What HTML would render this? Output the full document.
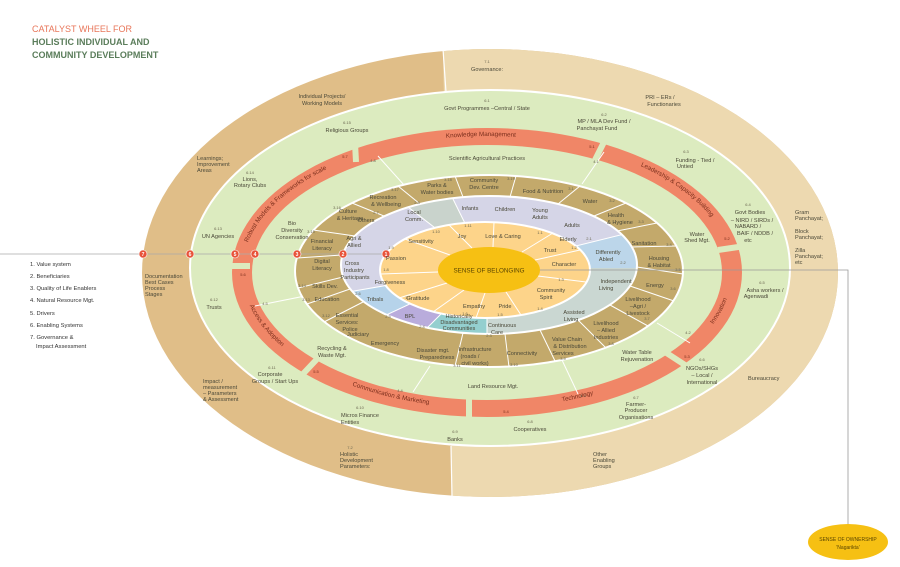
<!DOCTYPE html>
<html><head><meta charset="utf-8"><style>
html,body{margin:0;padding:0;background:#fff;width:900px;height:567px;overflow:hidden;}
svg{display:block;font-family:"Liberation Sans",sans-serif;}
.l{font-size:5.6px;fill:#4a4838;text-anchor:middle;}
.n{font-size:4px;fill:#6a6650;text-anchor:middle;}
.r{font-size:6.3px;fill:#7a2e1c;}
.lg{font-size:5.8px;fill:#333;}
</style></head><body>
<svg width="900" height="567" viewBox="0 0 900 567" xmlns="http://www.w3.org/2000/svg">
<defs>
<clipPath id="co"><ellipse cx="490" cy="273" rx="348" ry="224"/></clipPath>
<clipPath id="cl"><ellipse cx="489" cy="265" rx="148" ry="69"/></clipPath>
<path id="pTop" d="M242 272 A245 136 0 1 1 732 272"/>
<path id="pBot" d="M242 272 A245 136 0 0 0 732 272"/>
<path id="pRt" d="M675 359 A245 136 0 0 0 728 248"/>
</defs>

<text x="32" y="32" style="font-size:9px;fill:#e8765a">CATALYST WHEEL FOR</text>
<text x="32" y="45" style="font-size:9px;fill:#5b7d5b;font-weight:bold">HOLISTIC INDIVIDUAL AND</text>
<text x="32" y="58" style="font-size:9px;fill:#5b7d5b;font-weight:bold">COMMUNITY DEVELOPMENT</text>

<ellipse cx="490" cy="273" rx="348" ry="224" fill="#e0be88"/>
<polygon points="443,49 443,0 900,0 900,567 452,567 452,497" fill="#edd9b0" clip-path="url(#co)"/>
<line x1="443" y1="49" x2="446" y2="92" stroke="#fff" stroke-width="1.2"/>
<line x1="452" y1="497" x2="451" y2="446" stroke="#fff" stroke-width="1.2"/>

<ellipse cx="490" cy="268" rx="300" ry="178" fill="#dcebbf" stroke="#fff" stroke-width="2"/>

<ellipse cx="487" cy="272.5" rx="255" ry="144.5" fill="#f08667"/>
<ellipse cx="487" cy="272.5" rx="235" ry="127.5" fill="#dcebbf"/>
<g stroke="#dcebbf" stroke-width="6">
<line x1="356" y1="162" x2="355" y2="143"/>
<line x1="595" y1="160" x2="604" y2="142"/>
<line x1="718" y1="250" x2="745" y2="246"/>
<line x1="665" y1="352" x2="685" y2="365"/>
<line x1="469" y1="396" x2="469" y2="420"/>
<line x1="318" y1="358" x2="302" y2="375"/>
<line x1="250" y1="266" x2="230" y2="266"/>
</g>
<text class="r"><textPath href="#pTop" startOffset="14%" text-anchor="middle" dy="2">Robust Models &amp; Frameworks for scale</textPath></text>
<text class="r"><textPath href="#pTop" startOffset="49%" text-anchor="middle" dy="2">Knowledge Management</textPath></text>
<text class="r"><textPath href="#pTop" startOffset="83%" text-anchor="middle" dy="2">Leadership &amp; Capacity Building</textPath></text>
<text class="r"><textPath href="#pRt" startOffset="50%" text-anchor="middle" dy="2">Innovation</textPath></text>
<text class="r"><textPath href="#pBot" startOffset="10%" text-anchor="middle" dy="2">Access &amp; Adoption</textPath></text>
<text class="r"><textPath href="#pBot" startOffset="34%" text-anchor="middle" dy="2">Communication &amp; Marketing</textPath></text>
<text class="r"><textPath href="#pBot" startOffset="65%" text-anchor="middle" dy="2">Technology</textPath></text>
<g class="n" style="fill:#7a2e1c">
<text x="345" y="158">5.7</text><text x="592" y="148">5.1</text><text x="727" y="240">5.2</text>
<text x="687" y="358">5.3</text><text x="506" y="413">5.4</text><text x="316" y="373">5.5</text><text x="243" y="276">5.6</text>
</g>

<g stroke="#fff" stroke-width="1">
<line x1="378" y1="156" x2="404" y2="185"/>
<line x1="604" y1="152" x2="582" y2="184"/>
<line x1="657" y1="323" x2="690" y2="343"/>
<line x1="562" y1="360" x2="578" y2="394"/>
<line x1="430" y1="366" x2="413" y2="392"/>
<line x1="255" y1="306" x2="305" y2="296"/>
</g>

<ellipse cx="489" cy="271" rx="194" ry="96" fill="#c3a96b" stroke="#fff" stroke-width="2"/>
<g stroke="#fff" stroke-width="1">
<line x1="637" y1="267" x2="683" y2="274"/><line x1="632" y1="247" x2="676" y2="246"/>
<line x1="617" y1="231" x2="657" y2="223"/><line x1="594" y1="216" x2="626" y2="203"/>
<line x1="558" y1="204" x2="580" y2="186"/><line x1="510" y1="197" x2="516" y2="176"/>
<line x1="463" y1="197" x2="455" y2="176"/><line x1="420" y1="204" x2="398" y2="186"/>
<line x1="384" y1="216" x2="352" y2="203"/><line x1="355" y1="236" x2="313" y2="230"/>
<line x1="342" y1="255" x2="297" y2="258"/><line x1="343" y1="277" x2="298" y2="288"/>
<line x1="350" y1="289" x2="307" y2="304"/><line x1="363" y1="302" x2="324" y2="322"/>
<line x1="463" y1="333" x2="455" y2="366"/><line x1="505" y1="334" x2="509" y2="367"/>
<line x1="540" y1="330" x2="555" y2="361"/><line x1="578" y1="320" x2="606" y2="348"/>
<line x1="610" y1="305" x2="648" y2="326"/><line x1="630" y1="286" x2="674" y2="301"/>
</g>

<ellipse cx="489" cy="265" rx="148" ry="69" fill="#d5d5e7"/>
<g clip-path="url(#cl)">
<polygon points="487,268 250,85 382,55" fill="#c9d3cc"/>
<polygon points="487,268 826,184 900,268" fill="#bcd6ea"/>
<polygon points="487,268 900,268 900,600 487,600" fill="#cad7d2"/>
<polygon points="487,268 487,460 316,439" fill="#94cfcf"/>
<polygon points="487,268 316,439 217,394" fill="#b9acdc"/>
<polygon points="487,268 217,394 106,334" fill="#b6d3ea"/>
<g stroke="#fff" stroke-width="1">
<line x1="487" y1="268" x2="250" y2="85"/><line x1="487" y1="268" x2="382" y2="55"/>
<line x1="487" y1="268" x2="826" y2="184"/><line x1="487" y1="268" x2="487" y2="460"/>
<line x1="487" y1="268" x2="316" y2="439"/><line x1="487" y1="268" x2="217" y2="394"/>
<line x1="487" y1="268" x2="106" y2="334"/>
</g>
</g>
<ellipse cx="489" cy="265" rx="148" ry="69" fill="none" stroke="#fff" stroke-width="2"/>

<ellipse cx="485" cy="270" rx="105" ry="48" fill="#fdd48a" stroke="#fff" stroke-width="2"/>
<g stroke="#fff" stroke-width="1">
<line x1="535" y1="260" x2="580" y2="250"/><line x1="522" y1="252" x2="553" y2="233"/>
<line x1="493" y1="247" x2="494" y2="222"/><line x1="472" y1="248" x2="449" y2="225"/>
<line x1="450" y1="255" x2="405" y2="239"/><line x1="438" y1="272" x2="380" y2="274"/>
<line x1="447" y1="283" x2="399" y2="298"/><line x1="464" y1="290" x2="433" y2="312"/>
<line x1="485" y1="293" x2="476" y2="318"/><line x1="506" y1="292" x2="521" y2="315"/>
<line x1="538" y1="276" x2="586" y2="282"/>
</g>

<line x1="0" y1="254" x2="386" y2="254" stroke="#aaa" stroke-width="0.8"/>
<polyline points="540,270 848,270 848,524" fill="none" stroke="#999" stroke-width="0.8"/>

<ellipse cx="489" cy="270" rx="51" ry="23" fill="#f6c013"/>
<text x="489" y="272.5" style="font-size:6.3px;fill:#5a4500;text-anchor:middle">SENSE OF BELONGING</text>

<g fill="#e8533a" stroke="#fff" stroke-width="0.6">
<circle cx="143" cy="254" r="4"/><circle cx="190" cy="254" r="4"/><circle cx="235" cy="254" r="4"/>
<circle cx="255" cy="254" r="4"/><circle cx="297" cy="254" r="4"/><circle cx="343" cy="254" r="4"/><circle cx="386" cy="254" r="4"/>
</g>
<g style="font-size:5px;fill:#fff;text-anchor:middle;font-weight:bold">
<text x="143" y="256">7</text><text x="190" y="256">6</text><text x="235" y="256">5</text><text x="255" y="256">4</text>
<text x="297" y="256">3</text><text x="343" y="256">2</text><text x="386" y="256">1</text>
</g>

<ellipse cx="848" cy="542" rx="40" ry="18" fill="#f6c013"/>
<text x="848" y="541" style="font-size:5px;fill:#5a4500;text-anchor:middle">SENSE OF OWNERSHIP</text>
<text x="848" y="549" style="font-size:5px;fill:#5a4500;text-anchor:middle">'Nagarikta'</text>

<g class="lg">
<text x="30" y="266">1. Value system</text>
<text x="30" y="278">2.  Beneficiaries</text>
<text x="30" y="290">3. Quality of Life Enablers</text>
<text x="30" y="302">4. Natural Resource Mgt.</text>
<text x="30" y="315">5. Drivers</text>
<text x="30" y="327">6. Enabling Systems</text>
<text x="30" y="339">7. Governance &amp;</text>
<text x="36" y="348">Impact Assessment</text>
</g>

<g class="l">
<text x="487" y="63" class="n">7.1</text><text x="487" y="71">Governance:</text>
<text x="322" y="98">Individual Projects/</text><text x="322" y="105">Working Models</text>
<text x="660" y="99">PRI – ERs /</text><text x="664" y="106">Functionaries</text>
</g>
<g class="l" style="text-anchor:start">
<text x="197" y="160">Learnings;</text>
<text x="197" y="166">Improvement</text><text x="197" y="172">Areas</text>
<text x="795" y="214">Gram</text><text x="795" y="220">Panchayat;</text>
<text x="795" y="233">Block</text><text x="795" y="239">Panchayat;</text>
<text x="795" y="252">Zilla</text><text x="795" y="258">Panchayat;</text><text x="795" y="264">etc</text>
<text x="145" y="278">Documentation</text><text x="145" y="284">Best Cases</text><text x="145" y="290">Process</text><text x="145" y="296">Stages</text>
<text x="203" y="383">Impact /</text><text x="203" y="389">measurement</text><text x="203" y="395">– Parameters</text><text x="203" y="401">&amp; Assessment</text>
<text x="748" y="380">Bureaucracy</text>
<text x="340" y="456">Holistic</text><text x="340" y="462">Development</text><text x="340" y="468">Parameters:</text>
<text x="593" y="456">Other</text><text x="593" y="462">Enabling</text><text x="593" y="468">Groups</text>
</g>
<text class="n" x="350" y="449">7.2</text>

<g class="l">
<text class="n" x="487" y="102">6.1</text><text x="487" y="110">Govt Programmes –Central / State</text>
<text class="n" x="604" y="116">6.2</text><text x="604" y="123">MP / MLA Dev Fund /</text><text x="597" y="130">Panchayat Fund</text>
<text class="n" x="686" y="153">6.3</text><text x="695" y="162">Funding - Tied /</text><text x="685" y="168">Untied</text>
<text class="n" x="748" y="206">6.4</text><text x="750" y="214">Govt Bodies</text><text x="752" y="222">– NIRD / SIRDs /</text>
<text x="748" y="228">NABARD /</text><text x="755" y="235">BAIF / NDDB /</text><text x="748" y="242">etc</text>
<text class="n" x="762" y="284">6.5</text><text x="765" y="292">Asha workers /</text><text x="756" y="298">Agenwadi</text>
<text class="n" x="702" y="361">6.6</text><text x="702" y="370">NGOs/SHGs</text><text x="702" y="377">– Local /</text><text x="702" y="384">International</text>
<text class="n" x="636" y="399">6.7</text><text x="636" y="406">Farmer-</text><text x="636" y="412">Producer</text><text x="636" y="419">Organisations</text>
<text class="n" x="530" y="423">6.8</text><text x="530" y="431">Cooperatives</text>
<text class="n" x="455" y="433">6.9</text><text x="455" y="441">Banks</text>
<text class="n" x="360" y="409">6.10</text><text x="360" y="417">Micros Finance</text><text x="350" y="424">Entities</text>
<text class="n" x="272" y="369">6.11</text><text x="270" y="376">Corporate</text><text x="275" y="383">Groups / Start Ups</text>
<text class="n" x="214" y="301">6.12</text><text x="214" y="309">Trusts</text>
<text class="n" x="218" y="230">6.13</text><text x="218" y="238">UN Agencies</text>
<text class="n" x="250" y="174">6.14</text><text x="250" y="181">Lions,</text><text x="250" y="187">Rotary Clubs</text>
<text class="n" x="347" y="124">6.15</text><text x="347" y="132">Religious Groups</text>
</g>

<g class="l">
<text x="487" y="160">Scientific Agricultural Practices</text>
<text x="292" y="225">Bio</text><text x="292" y="232">Diversity</text><text x="292" y="239">Conservation</text>
<text x="697" y="236">Water</text><text x="697" y="242">Shed Mgt.</text>
<text x="637" y="354">Water Table</text><text x="637" y="361">Rejuvenation</text>
<text x="493" y="388">Land Resource Mgt.</text>
<text x="332" y="350">Recycling &amp;</text><text x="332" y="357">Waste Mgt.</text>
<text class="n" x="373" y="162">4.8</text><text class="n" x="596" y="163">4.1</text><text class="n" x="688" y="334">4.2</text>
<text class="n" x="583" y="397">4.3</text><text class="n" x="400" y="392">4.4</text><text class="n" x="265" y="305">4.5</text>
</g>

<g class="l">
<text x="437" y="187">Parks &amp;</text><text x="437" y="194">Water bodies</text><text class="n" x="448" y="181">3.18</text>
<text x="484" y="182">Community</text><text x="484" y="189">Dev. Centre</text><text class="n" x="511" y="180">3.19</text>
<text x="543" y="193">Food &amp; Nutrition</text><text class="n" x="571" y="190">3.1</text>
<text x="590" y="203">Water</text><text class="n" x="612" y="202">3.2</text>
<text x="616" y="217">Health</text><text x="620" y="224">&amp; Hygiene</text><text class="n" x="641" y="223">3.3</text>
<text x="644" y="245">Sanitation</text><text class="n" x="669" y="246">3.4</text>
<text x="659" y="260">Housing</text><text x="659" y="267">&amp; Habitat</text><text class="n" x="678" y="271">3.5</text>
<text x="655" y="287">Energy</text><text class="n" x="673" y="290">3.6</text>
<text x="638" y="301">Livelihood</text><text x="638" y="308">–Agri /</text><text x="638" y="315">Livestock</text><text class="n" x="647" y="320">3.7</text>
<text x="606" y="325">Livelihood</text><text x="606" y="332">– Allied</text><text x="606" y="339">Industries</text><text class="n" x="611" y="345">3.8</text>
<text x="567" y="341">Value Chain</text><text x="570" y="348">&amp; Distribution</text><text x="563" y="355">Services</text><text class="n" x="563" y="360">3.9</text>
<text x="522" y="355">Connectivity</text><text class="n" x="514" y="366">3.10</text>
<text x="475" y="351">Infrastructure</text><text x="470" y="358">(roads /</text><text x="475" y="365">civil works)</text><text class="n" x="457" y="367">3.11</text>
<text x="433" y="352">Disaster mgt.</text><text x="437" y="359">Preparedness</text>
<text x="385" y="345">Emergency</text><text x="358" y="336">Judiciary</text>
<text x="347" y="317">Essential</text><text x="347" y="324">Services:</text><text x="350" y="331">Police</text><text class="n" x="326" y="317">3.12</text>
<text x="327" y="301">Education</text><text class="n" x="306" y="301">3.13</text>
<text x="325" y="288">Skills Dev.</text><text class="n" x="302" y="287">3.14</text>
<text x="322" y="263">Digital</text><text x="322" y="270">Literacy</text>
<text x="322" y="243">Financial</text><text x="322" y="250">Literacy</text><text class="n" x="311" y="233">3.15</text>
<text x="348" y="213">Culture</text><text x="350" y="220">&amp; Heritage</text><text class="n" x="337" y="209">3.16</text>
<text x="383" y="199">Recreation</text><text x="386" y="206">&amp; Wellbeing</text><text class="n" x="395" y="191">3.17</text>
</g>

<g class="l">
<text x="366" y="222">Others</text><text class="n" x="376" y="214">2.7</text>
<text x="354" y="240">Agri &amp;</text><text x="354" y="247">Allied</text>
<text x="352" y="265">Cross</text><text x="354" y="272">Industry</text><text x="355" y="279">Participants</text>
<text x="414" y="214">Local</text><text x="414" y="221">Comm.</text><text class="n" x="417" y="204">2.8</text>
<text x="470" y="210">Infants</text><text x="505" y="211">Children</text>
<text x="540" y="212">Young</text><text x="540" y="219">Adults</text>
<text x="572" y="227">Adults</text><text x="568" y="241">Elderly</text><text class="n" x="589" y="240">2.1</text>
<text x="608" y="254">Differently</text><text x="606" y="261">Abled</text><text class="n" x="623" y="264">2.2</text>
<text x="616" y="283">Independent</text><text x="606" y="290">Living</text>
<text x="574" y="314">Assisted</text><text x="571" y="321">Living</text>
<text x="502" y="327">Continuous</text><text x="497" y="334">Care</text><text class="n" x="489" y="337">2.3</text>
<text x="459" y="318">Historically</text><text x="459" y="324">Disadvantaged</text><text x="459" y="330">Communities</text><text class="n" x="422" y="328">2.4</text>
<text x="410" y="318">BPL</text><text class="n" x="388" y="318">2.5</text>
<text x="375" y="301">Tribals</text><text class="n" x="358" y="295">2.6</text>
</g>

<g class="l">
<text x="396" y="260">Passion</text><text class="n" x="391" y="249">1.9</text>
<text x="421" y="243">Sensitivity</text><text class="n" x="436" y="233">1.10</text>
<text x="462" y="238">Joy</text><text class="n" x="468" y="227">1.11</text>
<text x="503" y="238">Love &amp; Caring</text><text class="n" x="540" y="234">1.1</text>
<text x="550" y="252">Trust</text><text class="n" x="574" y="249">1.2</text>
<text x="564" y="266">Character</text><text class="n" x="561" y="281">1.3</text>
<text x="551" y="292">Community</text><text x="546" y="299">Spirit</text><text class="n" x="540" y="310">1.4</text>
<text x="505" y="308">Pride</text><text class="n" x="500" y="316">1.5</text>
<text x="474" y="308">Empathy</text><text class="n" x="465" y="315">1.6</text>
<text x="418" y="300">Gratitude</text><text class="n" x="408" y="299">1.7</text>
<text x="390" y="284">Forgiveness</text><text class="n" x="386" y="271">1.8</text>
</g>
</svg>
</body></html>
